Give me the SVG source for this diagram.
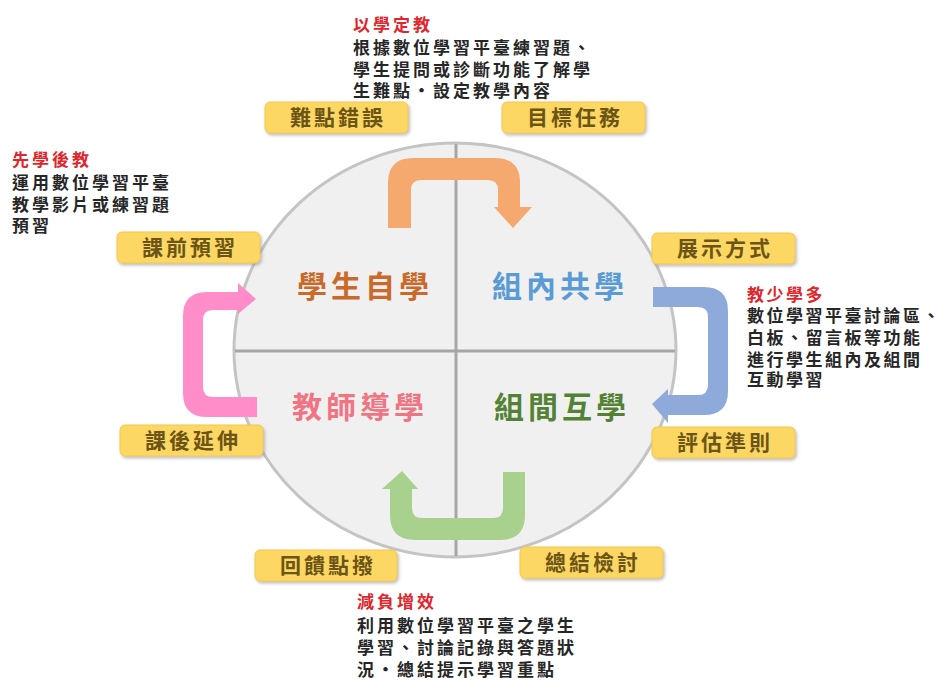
<svg xmlns="http://www.w3.org/2000/svg" width="944" height="680" viewBox="0 0 944 680">
<defs>
<filter id="sh" x="-10%" y="-20%" width="125%" height="160%">
<feDropShadow dx="1.5" dy="2" stdDeviation="1.5" flood-color="#8c8c8c" flood-opacity="0.55"/>
</filter>
<style>
.lbl rect{fill:#fdd764;stroke:#f3c94e;stroke-width:1;filter:url(#sh)}
.lbl text{font-family:"Noto Sans CJK TC","Noto Sans CJK SC",sans-serif;font-size:21px;font-weight:700;fill:#6b5516;letter-spacing:3px;text-anchor:middle}
.q{font-family:"Noto Sans CJK TC","Noto Sans CJK SC",sans-serif;font-size:30px;font-weight:700;letter-spacing:4px;text-anchor:middle}
.note{font-family:"Noto Sans CJK TC","Noto Sans CJK SC",sans-serif;font-size:17px;font-weight:700;letter-spacing:3px;fill:#262626}
.note .t{fill:#e0262c}
.div{stroke:#a6a6a6;stroke-width:3}
</style>
</defs>
<rect width="944" height="680" fill="#ffffff"/>

<g id="circle">
<ellipse cx="455" cy="350" rx="221" ry="207" fill="#f0f0f0" stroke="#c4c4c4" stroke-width="3"/>
<line class="div" x1="456" y1="144" x2="456" y2="556"/>
<line class="div" x1="235" y1="351" x2="675" y2="351"/>
</g>

<g id="connectors">
<path id="arrow-orange" fill="#f5a96f" d="M388,228 V183 Q388,158 413,158 H495 Q520,158 520,183 V207 H532 L513,228 L494,207 H498 V190 Q498,180 488,180 H421 Q411,180 411,190 V228 Z"/>
<path id="arrow-blue" fill="#8eaadb" d="M653,287 H704 Q728,287 728,311 V391 Q728,415 704,415 H668 V423 L652,404 L668,389 V395 H698 Q708,395 708,385 V317 Q708,307 698,307 H653 Z"/>
<path id="arrow-green" fill="#a9d18e" d="M525,472 V515 Q525,540 500,540 H415 Q390,540 390,515 V489 H382 L402,471 L418,489 H412 V508 Q412,518 422,518 H493 Q503,518 503,508 V472 Z"/>
<path id="arrow-pink" fill="#ff8dca" d="M257,417 H207 Q183,417 183,393 V316 Q183,292 207,292 H238 V283 L256,299 L238,314 V310 H213 Q203,310 203,320 V387 Q203,397 213,397 H257 Z"/>
</g>

<g id="q1"><text class="q" x="365" y="297" fill="#c96a2b">學生自學</text></g>
<g id="q2"><text class="q" x="560" y="297" fill="#5b9bd5">組內共學</text></g>
<g id="q3"><text class="q" x="360" y="418" fill="#f07482">教師導學</text></g>
<g id="q4"><text class="q" x="562" y="418" fill="#548235">組間互學</text></g>

<g id="l1" class="lbl"><rect x="265" y="102" width="143" height="31" rx="5"/><text x="338" y="125">難點錯誤</text></g>
<g id="l2" class="lbl"><rect x="502" y="102" width="143" height="31" rx="5"/><text x="575" y="125">目標任務</text></g>
<g id="l3" class="lbl"><rect x="117" y="232" width="143" height="31" rx="5"/><text x="190" y="255">課前預習</text></g>
<g id="l4" class="lbl"><rect x="120" y="425" width="143" height="31" rx="5"/><text x="193" y="448">課後延伸</text></g>
<g id="l5" class="lbl"><rect x="652" y="233" width="143" height="31" rx="5"/><text x="725" y="256">展示方式</text></g>
<g id="l6" class="lbl"><rect x="652" y="427" width="143" height="31" rx="5"/><text x="725" y="450">評估準則</text></g>
<g id="l7" class="lbl"><rect x="255" y="550" width="142" height="31" rx="5"/><text x="328" y="573">回饋點撥</text></g>
<g id="l8" class="lbl"><rect x="520" y="547" width="143" height="31" rx="5"/><text x="593" y="570">總結檢討</text></g>

<g id="n-top" class="note">
<text x="353" y="31"><tspan class="t">以學定教</tspan><tspan x="353" y="54">根據數位學習平臺練習題、</tspan><tspan x="353" y="76">學生提問或診斷功能了解學</tspan><tspan x="353" y="97">生難點・設定教學內容</tspan></text>
</g>
<g id="n-left" class="note">
<text x="12" y="166"><tspan class="t">先學後教</tspan><tspan x="12" y="189">運用數位學習平臺</tspan><tspan x="12" y="211">教學影片或練習題</tspan><tspan x="12" y="232">預習</tspan></text>
</g>
<g id="n-right" class="note" style="letter-spacing:2.5px">
<text x="747" y="301"><tspan class="t">教少學多</tspan><tspan x="747" y="322">數位學習平臺討論區、</tspan><tspan x="747" y="344">白板、留言板等功能</tspan><tspan x="747" y="366">進行學生組內及組間</tspan><tspan x="747" y="386">互動學習</tspan></text>
</g>
<g id="n-bottom" class="note">
<text x="357" y="608"><tspan class="t">減負增效</tspan><tspan x="357" y="632">利用數位學習平臺之學生</tspan><tspan x="357" y="654">學習、討論記錄與答題狀</tspan><tspan x="357" y="676">況・總結提示學習重點</tspan></text>
</g>
</svg>
